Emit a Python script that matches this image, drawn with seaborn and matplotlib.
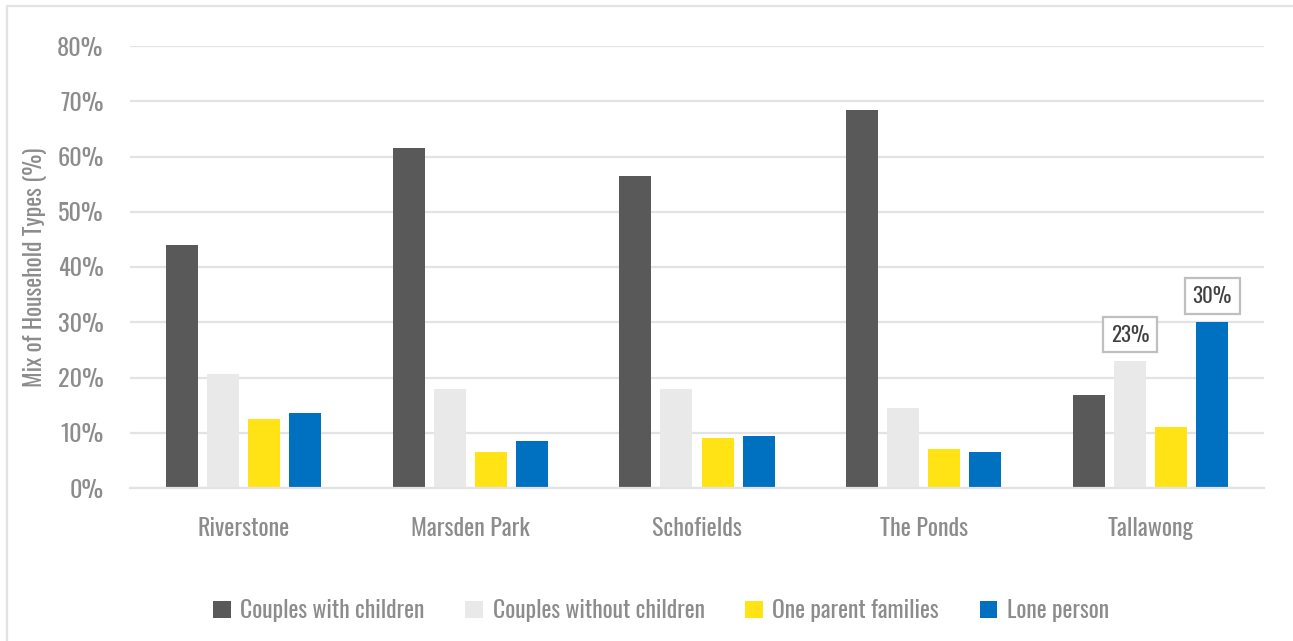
import matplotlib
matplotlib.use("Agg")
import matplotlib.pyplot as plt
import matplotlib.patches as mpatches
from matplotlib.ticker import PercentFormatter
import seaborn as sns
import pandas as pd

suburbs = ["Riverstone", "Marsden Park", "Schofields", "The Ponds", "Tallawong"]
series = ["Couples with children", "Couples without children", "One parent families", "Lone person"]
couples_with_children = [44.0, 61.5, 56.5, 68.4, 16.9]
couples_without_children = [20.7, 17.9, 17.9, 14.5, 23.0]
one_parent_families = [12.5, 6.5, 9.0, 7.0, 11.0]
lone_person = [13.5, 8.5, 9.4, 6.5, 30.0]
colors = ["#595959", "#E9E9E9", "#FFE314", "#0070C0"]
labelled = {("Tallawong", "Couples without children"): "23%", ("Tallawong", "Lone person"): "30%"}

values = [couples_with_children, couples_without_children, one_parent_families, lone_person]
rows = []
for s, vals in zip(series, values):
    for sub, v in zip(suburbs, vals):
        rows.append({"Suburb": sub, "Type": s, "Value": v})
df = pd.DataFrame(rows)

sns.set_theme(style="white")
FONT = ["Oswald", "DejaVu Sans"]
plt.rcParams["font.family"] = FONT
TXT = "#8C8C8C"

fig = plt.figure(figsize=(12.93, 6.41), dpi=100)
ax = fig.add_axes([130 / 1293, 1 - 488 / 641, (1264 - 130) / 1293, (488 - 46) / 641])

sns.barplot(data=df, x="Suburb", y="Value", hue="Type", order=suburbs, hue_order=series,
            palette=colors, width=0.724, gap=0.22, saturation=1, ax=ax, legend=False,
            linewidth=0, errorbar=None)

ax.set_ylim(0, 80)
ax.set_xlim(-0.5, len(suburbs) - 0.5)
ax.set_yticks(range(0, 81, 10))
ax.yaxis.set_major_formatter(PercentFormatter(decimals=0))
ax.grid(axis="y", color="#E3E3E3", linewidth=1.6)
ax.set_axisbelow(True)
for sp in ["top", "right", "left"]:
    ax.spines[sp].set_visible(False)
ax.spines["bottom"].set_color("#E3E3E3")
ax.spines["bottom"].set_linewidth(1.6)
ax.tick_params(axis="y", length=0, pad=19, labelsize=17.5, labelcolor=TXT)
ax.tick_params(axis="x", length=0, pad=21, labelsize=17.3, labelcolor=TXT)
ax.set_xlabel("")
ax.set_ylabel("Mix of Household Types (%)", fontsize=17, color=TXT)
ax.yaxis.set_label_coords((47 - 130) / 1134, 0.5)

# data labels
for cont, s in zip(ax.containers, series):
    for bar, sub in zip(cont, suburbs):
        key = (sub, s)
        if key in labelled:
            ax.annotate(labelled[key], (bar.get_x() + bar.get_width() / 2, bar.get_height()),
                        xytext=(0, 19), textcoords="offset points", ha="center", va="center",
                        fontsize=15, color="#404040",
                        bbox=dict(boxstyle="square,pad=0.38", fc="white", ec="#BFBFBF", lw=1.6))

handles = [mpatches.Patch(facecolor=c, edgecolor="none") for c in colors]
leg = fig.legend(handles, series, loc="center", bbox_to_anchor=(661 / 1293, 1 - 610 / 641),
                 ncol=4, frameon=False, fontsize=17, handlelength=0.75, handleheight=0.75,
                 handletextpad=0.4, columnspacing=1.72)
for t in leg.get_texts():
    t.set_color(TXT)

fig.patches.append(mpatches.Rectangle((7 / 1293, -0.01), 1.01, 1 - 6 / 641 + 0.01,
                                      transform=fig.transFigure, fill=False,
                                      ec="#E3E3E3", lw=1.6))
fig.savefig("out.png", dpi=100)
